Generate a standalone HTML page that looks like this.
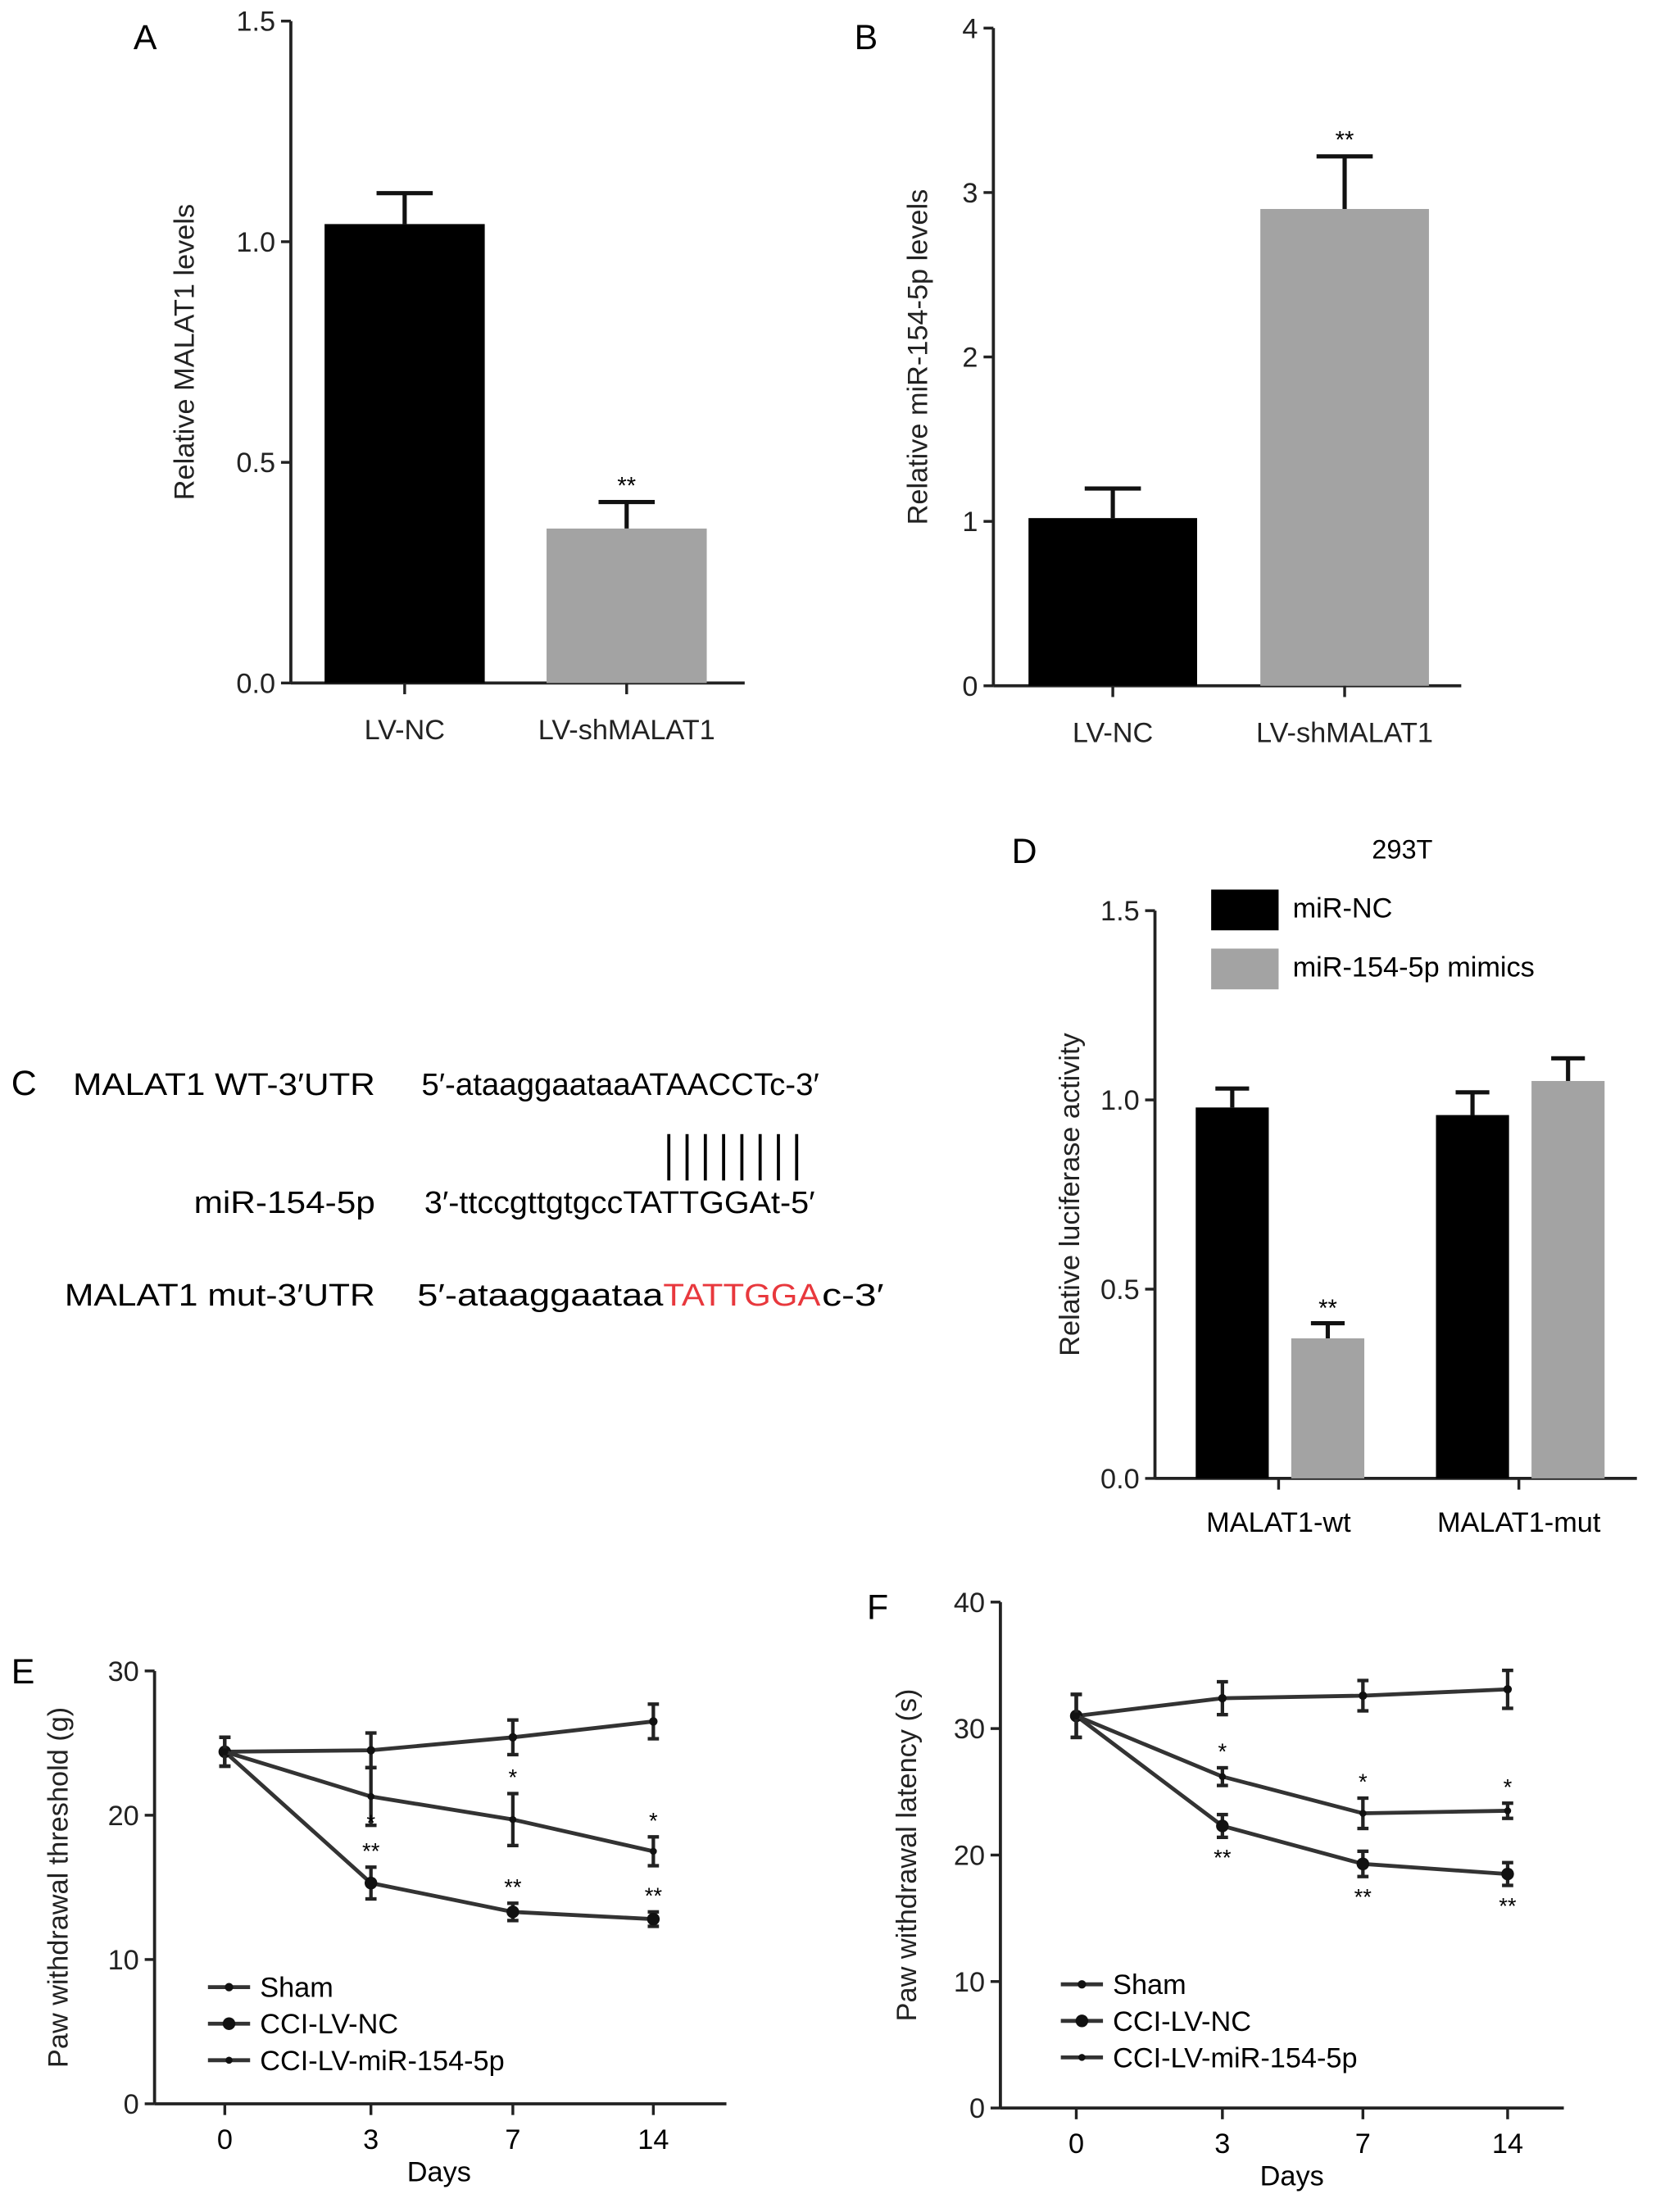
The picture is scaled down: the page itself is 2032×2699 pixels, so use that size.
<!DOCTYPE html>
<html><head><meta charset="utf-8"><style>
html,body{margin:0;padding:0;background:#fff;}
svg{display:block;font-family:"Liberation Sans",Arial,sans-serif;}
</style></head><body>
<svg id="fig" width="2032" height="2699" viewBox="0 0 1185 1574" preserveAspectRatio="none" xmlns="http://www.w3.org/2000/svg">
<g id="pA"></g>
<g id="pB"></g>
<g id="pC">
 <text x="8" y="779" font-size="25">C</text>
 <text x="52" y="779" font-size="22" textLength="215" lengthAdjust="spacingAndGlyphs">MALAT1 WT-3′UTR</text>
 <text x="300" y="779" font-size="22" textLength="283" lengthAdjust="spacingAndGlyphs">5′-ataaggaataaATAACCTc-3′</text>
 <g stroke="#000" stroke-width="2.2">
  <line x1="476" y1="807" x2="476" y2="840"/><line x1="489" y1="807" x2="489" y2="840"/><line x1="502" y1="807" x2="502" y2="840"/><line x1="515" y1="807" x2="515" y2="840"/><line x1="528" y1="807" x2="528" y2="840"/><line x1="541" y1="807" x2="541" y2="840"/><line x1="554" y1="807" x2="554" y2="840"/><line x1="567" y1="807" x2="567" y2="840"/>
 </g>
 <text x="138" y="863" font-size="22" textLength="129" lengthAdjust="spacingAndGlyphs">miR-154-5p</text>
 <text x="302" y="863" font-size="22" textLength="278" lengthAdjust="spacingAndGlyphs">3′-ttccgttgtgccTATTGGAt-5′</text>
 <text x="46" y="929" font-size="22" textLength="221" lengthAdjust="spacingAndGlyphs">MALAT1 mut-3′UTR</text>
 <text x="297" y="929" font-size="22" textLength="175" lengthAdjust="spacingAndGlyphs">5′-ataaggaataa</text>
 <text x="472" y="929" font-size="22" fill="#e8383d" textLength="112" lengthAdjust="spacingAndGlyphs">TATTGGA</text>
 <text x="585" y="929" font-size="22" textLength="44" lengthAdjust="spacingAndGlyphs">c-3′</text>
</g>
<g id="pD"></g>
<g id="pE"></g>
<g id="pF"></g>
</svg>
<script>
const NS="http://www.w3.org/2000/svg";
// Panel A data
const aCats=["LV-NC","LV-shMALAT1"];
const aVals=[1.04,0.35];
const aErr=[0.07,0.06];
const aTicks=[0,0.5,1.0,1.5];
// Panel B data
const bCats=["LV-NC","LV-shMALAT1"];
const bVals=[1.02,2.9];
const bErr=[0.18,0.32];
const bTicks=[0,1,2,3,4];
// Panel D data
const dGroups=["MALAT1-wt","MALAT1-mut"];
const dSeries=["miR-NC","miR-154-5p mimics"];
const dNC=[0.98,0.96];
const dMim=[0.37,1.05];
const dNCErr=[0.05,0.06];
const dMimErr=[0.04,0.06];
const dTicks=[0,0.5,1.0,1.5];
// Panel E data
const eDays=["0","3","7","14"];
const eSham=[24.4,24.5,25.4,26.5];
const eNC=[24.4,15.3,13.3,12.8];
const eMir=[24.4,21.3,19.7,17.5];
const eShamErr=[1.0,1.2,1.2,1.2];
const eNCErr=[1.0,1.1,0.6,0.5];
const eMirErr=[1.0,2.0,1.8,1.0];
const eTicks=[0,10,20,30];
// Panel F data
const fDays=["0","3","7","14"];
const fSham=[31.0,32.4,32.6,33.1];
const fNC=[31.0,22.3,19.3,18.5];
const fMir=[31.0,26.2,23.3,23.5];
const fShamErr=[1.7,1.3,1.2,1.5];
const fNCErr=[1.7,0.9,1.0,0.9];
const fMirErr=[1.7,0.7,1.2,0.6];
const fTicks=[0,10,20,30,40];
const seriesNames=["Sham","CCI-LV-NC","CCI-LV-miR-154-5p"];

function mk(parent,tag,attrs,txt){const e=document.createElementNS(NS,tag);for(const k in attrs)e.setAttribute(k,attrs[k]);if(txt!==undefined)e.textContent=txt;parent.appendChild(e);return e;}
function fmt(v,d){return d?v.toFixed(1):String(v);}

function axesY(g,ax,y,ticks,x0,x1,dec,title,titleX,ymid){
  let l=mk(g,'line',{x1:ax,y1:y(ticks[ticks.length-1]),x2:ax,y2:y(0),stroke:'#222','stroke-width':2.2});
  
  let b=mk(g,'line',{x1:ax,y1:y(0),x2:x1,y2:y(0),stroke:'#222','stroke-width':2.2});
  
  ticks.forEach(t=>{
    mk(g,'line',{x1:ax-7,y1:y(t),x2:ax,y2:y(t),stroke:'#222','stroke-width':2});
    let tx=mk(g,'text',{x:ax-11,y:y(t)+7,'font-size':20,'text-anchor':'end',fill:'#222'},fmt(t,dec));
    
  });
  let tt=mk(g,'text',{x:titleX,y:ymid,'font-size':20,'text-anchor':'middle',transform:`rotate(-90 ${titleX} ${ymid})`,fill:'#222'},title);
  
}
function errBar(g,x,yTop,yv,w){
  mk(g,'line',{x1:x,y1:yTop,x2:x,y2:yv,stroke:'#111','stroke-width':3});
  mk(g,'line',{x1:x-w,y1:yTop,x2:x+w,y2:yTop,stroke:'#111','stroke-width':3});
}
function barPanel(id,letter,lx,ly,ax,y0,yTop,max,ticks,dec,cats,vals,errs,centers,bw,title,titleX,x1,sig){
  const g=document.getElementById(id);
  const y=v=>y0-(v/max)*(y0-yTop);
  let L=mk(g,'text',{x:lx,y:ly,'font-size':25},letter);
  axesY(g,ax,y,ticks,ax,x1,dec,title,titleX,(y0+yTop)/2);
  cats.forEach((c,i)=>{
    const cx=centers[i];
    errBar(g,cx,y(vals[i]+errs[i]),y(vals[i]),20);
    let r=mk(g,'rect',{x:cx-bw/2,y:y(vals[i]),width:bw,height:y0-y(vals[i]),fill:i==0?'#000':'#a3a3a3'});
    
    mk(g,'line',{x1:cx,y1:y0,x2:cx,y2:y0+8,stroke:'#222','stroke-width':2});
    let t=mk(g,'text',{x:cx,y:y0+40,'font-size':20,'text-anchor':'middle',fill:'#222'},c);
    
    if(sig[i]){let s=mk(g,'text',{x:cx,y:y(vals[i]+errs[i])-6,'font-size':17,'text-anchor':'middle'},sig[i]);
      }
  });
}
barPanel('pA','A',95,35,207,486,15,1.5,aTicks,true,aCats,aVals,aErr,[288,446],114,'Relative MALAT1 levels',138,530,['','**']);
barPanel('pB','B',608,35,707,488,20,4,bTicks,false,bCats,bVals,bErr,[792,957],120,'Relative miR-154-5p levels',660,1040,['','**']);

// Panel D
(function(){
  const g=document.getElementById('pD');
  const y0=1052,yT=648,max=1.5,ax=822;
  const y=v=>y0-(v/max)*(y0-yT);
  let L=mk(g,'text',{x:720,y:614,'font-size':25},'D');
  let T=mk(g,'text',{x:998,y:611,'font-size':19,'text-anchor':'middle'},'293T');
  axesY(g,ax,y,dTicks,ax,1165,true,'Relative luciferase activity',768,850);
  const gc=[910,1081];
  dGroups.forEach((c,i)=>{
    const xn=gc[i]-33,xm=gc[i]+35;
    errBar(g,xn,y(dNC[i]+dNCErr[i]),y(dNC[i]),12);
    let r=mk(g,'rect',{x:xn-26,y:y(dNC[i]),width:52,height:y0-y(dNC[i]),fill:'#000'});
    
    errBar(g,xm,y(dMim[i]+dMimErr[i]),y(dMim[i]),12);
    let r2=mk(g,'rect',{x:xm-26,y:y(dMim[i]),width:52,height:y0-y(dMim[i]),fill:'#a3a3a3'});
    
    mk(g,'line',{x1:gc[i],y1:y0,x2:gc[i],y2:y0+8,stroke:'#222','stroke-width':2});
    let t=mk(g,'text',{x:gc[i],y:y0+38,'font-size':20,'text-anchor':'middle'},c);
    
  });
  let s=mk(g,'text',{x:gc[0]+35,y:y(dMim[0]+dMimErr[0])-5,'font-size':17,'text-anchor':'middle'},'**');
  
  dSeries.forEach((n,i)=>{
    let r=mk(g,'rect',{x:862,y:633+i*42,width:48,height:29,fill:i?'#a3a3a3':'#000'});
    
    let t=mk(g,'text',{x:920,y:653+i*42,'font-size':20},n);
    
  });
})();

// Line panels
function linePanel(id,letter,lx,ly,ax,x0px,xEnd,xs,y0,yT,max,ticks,days,ser,errs,title,titleX,legX,legY,stars){
  const g=document.getElementById(id);
  const y=v=>y0-(v/max)*(y0-yT);
  let L=mk(g,'text',{x:lx,y:ly,'font-size':25},letter);
  axesY(g,ax,y,ticks,ax,xEnd,false,title,titleX,(y0+yT)/2);
  days.forEach((d,i)=>{
    mk(g,'line',{x1:xs[i],y1:y0,x2:xs[i],y2:y0+8,stroke:'#222','stroke-width':2});
    let t=mk(g,'text',{x:xs[i],y:y0+32,'font-size':20,'text-anchor':'middle'},d);
    
  });
  let xt=mk(g,'text',{x:(xs[0]+xs[3])/2,y:y0+55,'font-size':20,'text-anchor':'middle'},'Days');
  
  const rad=[3,4.5,2.5];
  ser.forEach((vals,k)=>{
    let p=mk(g,'polyline',{points:vals.map((v,i)=>xs[i]+','+y(v)).join(' '),fill:'none',stroke:'#333','stroke-width':2.8});
    
    vals.forEach((v,i)=>{
      const e=errs[k][i];
      mk(g,'line',{x1:xs[i],y1:y(v+e),x2:xs[i],y2:y(v-e),stroke:'#222','stroke-width':2.5});
      mk(g,'line',{x1:xs[i]-4,y1:y(v+e),x2:xs[i]+4,y2:y(v+e),stroke:'#222','stroke-width':2.5});
      mk(g,'line',{x1:xs[i]-4,y1:y(v-e),x2:xs[i]+4,y2:y(v-e),stroke:'#222','stroke-width':2.5});
      let c=mk(g,'circle',{cx:xs[i],cy:y(v),r:rad[k],fill:'#111'});
      
    });
    let ll=mk(g,'line',{x1:legX,y1:legY+k*26,x2:legX+30,y2:legY+k*26,stroke:'#333','stroke-width':2.8});
    mk(g,'circle',{cx:legX+15,cy:legY+k*26,r:rad[k],fill:'#111'});
    let lt=mk(g,'text',{x:legX+37,y:legY+k*26+7,'font-size':20},seriesNames[k]);
    
  });
  stars.forEach(s=>{
    let t=mk(g,'text',{x:xs[s[0]],y:y(s[1])+s[2],'font-size':16,'text-anchor':'middle'},s[3]);
    
  });
}
linePanel('pE','E',8,1198,110,160,517,[160,264,365,465],1497,1189,30,eTicks,eDays,[eSham,eNC,eMir],[eShamErr,eNCErr,eMirErr],'Paw withdrawal threshold (g)',48,148,1414,
 [[1,eNC[1]+eNCErr[1],-26,'*'],[1,eNC[1]+eNCErr[1],-6,'**'],[2,eMir[2]+eMirErr[2],-6,'*'],[3,eMir[3]+eMirErr[3],-6,'*'],[2,eNC[2]+eNCErr[2],-6,'**'],[3,eNC[3]+eNCErr[3],-6,'**']]);
linePanel('pF','F',617,1152,712,766,1113,[766,870,970,1073],1500,1140,40,fTicks,fDays,[fSham,fNC,fMir],[fShamErr,fNCErr,fMirErr],'Paw withdrawal latency (s)',652,755,1412,
 [[1,fMir[1]+fMirErr[1],-6,'*'],[2,fMir[2]+fMirErr[2],-6,'*'],[3,fMir[3]+fMirErr[3],-6,'*'],[1,fNC[1]-fNCErr[1],20,'**'],[2,fNC[2]-fNCErr[2],20,'**'],[3,fNC[3]-fNCErr[3],20,'**']]);
</script>
</body></html>
